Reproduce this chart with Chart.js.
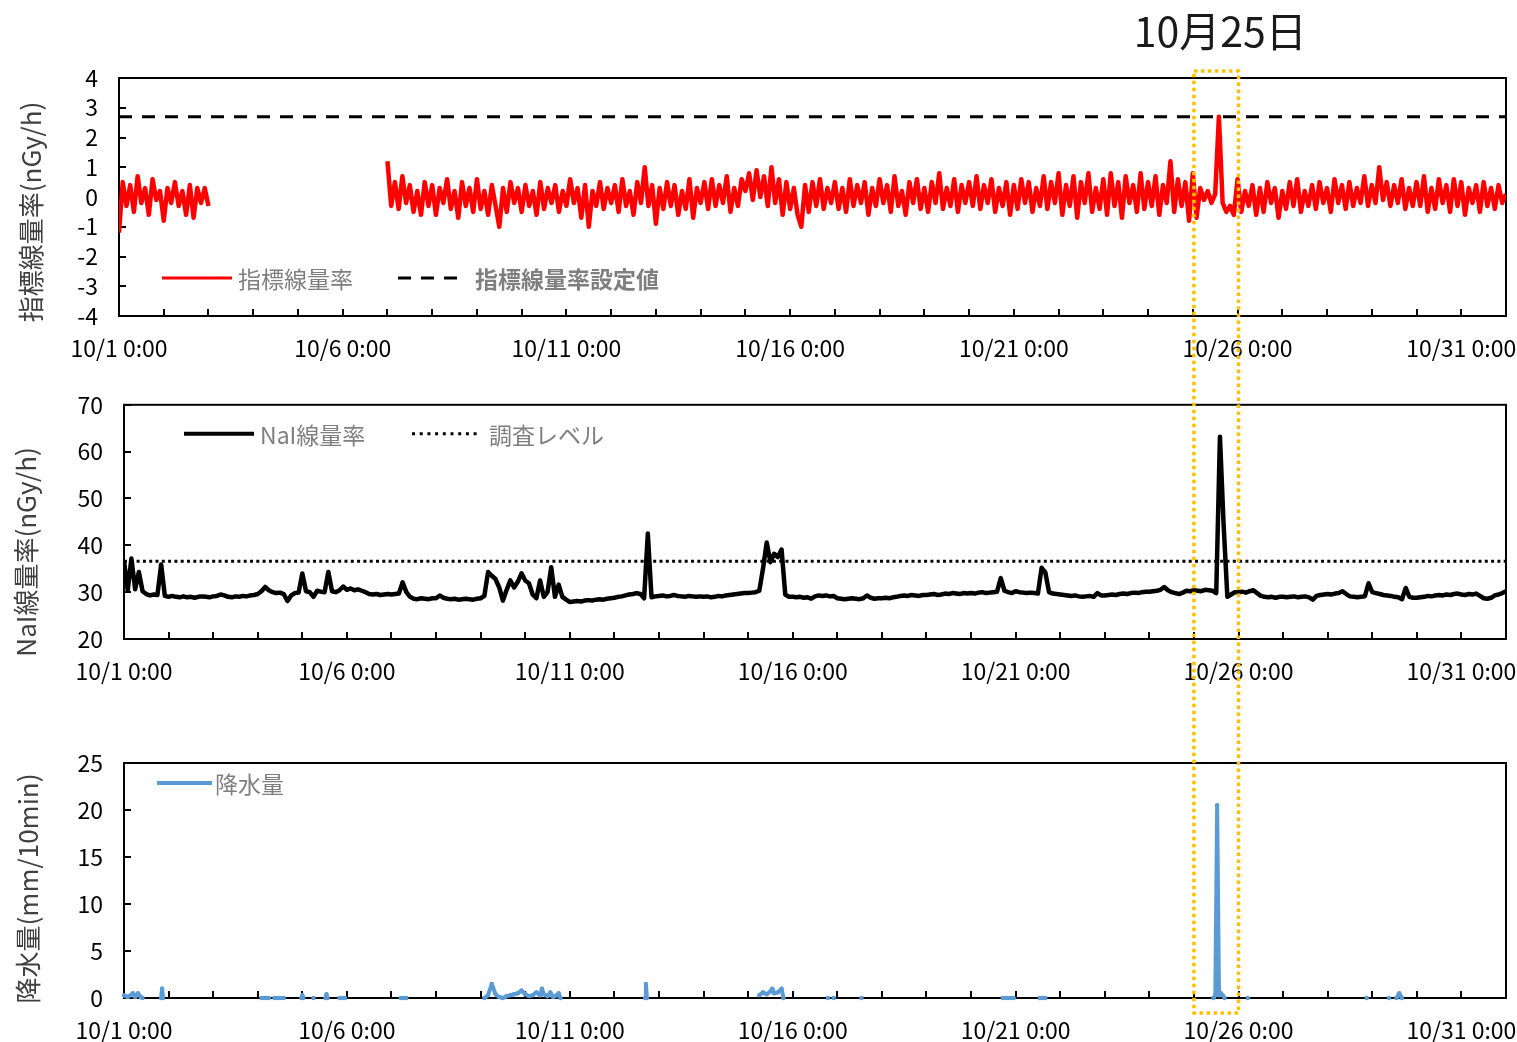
<!DOCTYPE html>
<html lang="ja">
<head>
<meta charset="utf-8">
<title>指標線量率・NaI線量率・降水量</title>
<script src="https://cdn.jsdelivr.net/npm/chart.js@4.4.1/dist/chart.umd.min.js"></script>
<style>
  html, body { margin: 0; padding: 0; background: #fff; }
  body { width: 1517px; height: 1042px; position: relative; overflow: hidden; }
  canvas { position: absolute; left: 0; }
  #overlay { top: 0; pointer-events: none; }
</style>
</head>
<body>
<canvas id="rateChart" width="1517" height="370" style="top:0"></canvas>
<canvas id="naiChart" width="1517" height="330" style="top:370px"></canvas>
<canvas id="rainChart" width="1517" height="342" style="top:700px"></canvas>
<canvas id="overlay" width="1517" height="1042"></canvas>
<script>
// readings every 2 hours starting 10/1 0:00, x axis is in days
const STEP = 2 / 24;
const dateLabels = ['10/1 0:00', '10/6 0:00', '10/11 0:00', '10/16 0:00', '10/21 0:00', '10/26 0:00', '10/31 0:00'];
const highlightDay = [24, 25];   // 10/25 0:00 - 10/26 0:00
const highlightText = '10月25日';

// 指標線量率 (nGy/h), one row per day
const rateValues = [
  -1.2, 0.5, -0.3, 0.4, -0.5, 0.7, -0.2, 0.3, -0.6, 0.6, -0.1, 0.2,
  -0.8, 0.3, -0.2, 0.5, -0.3, 0.2, -0.6, 0.4, -0.7, 0.3, -0.2, 0.3,
  -0.3, null, null, null, null, null, null, null, null, null, null, null,
  null, null, null, null, null, null, null, null, null, null, null, null,
  null, null, null, null, null, null, null, null, null, null, null, null,
  null, null, null, null, null, null, null, null, null, null, null, null,
  1.2, -0.3, 0.5, -0.4, 0.7, -0.2, 0.4, -0.5, 0.2, -0.6, 0.5, -0.3,
  0.4, -0.6, 0.3, -0.2, 0.6, -0.4, 0.2, -0.7, 0.5, -0.3, 0.3, -0.5,
  0.6, -0.4, 0.2, -0.6, 0.4, -0.3, -1.0, 0.3, -0.5, 0.5, -0.2, 0.3,
  -0.5, 0.4, -0.3, 0.2, -0.6, 0.5, -0.4, 0.3, -0.2, 0.4, -0.5, 0.2,
  -0.3, 0.6, -0.2, 0.3, -0.7, 0.4, -1.0, 0.2, -0.3, 0.5, -0.4, 0.3,
  -0.2, 0.4, -0.5, 0.6, -0.3, 0.2, -0.6, 0.5, -0.2, 1.0, -0.3, 0.4,
  -0.9, 0.3, -0.4, 0.5, -0.3, 0.4, -0.6, 0.2, -0.4, 0.6, -0.7, 0.3,
  -0.2, 0.5, -0.4, 0.6, -0.3, 0.4, -0.2, 0.7, -0.5, 0.3, -0.3, 0.6,
  0.2, 0.8, -0.1, 0.9, 0.0, 0.7, -0.3, 1.0, -0.2, 0.6, -0.6, 0.5,
  -0.4, 0.3, -0.6, -1.0, 0.4, -0.5, 0.5, -0.3, 0.6, -0.4, 0.3, -0.2,
  0.5, -0.4, 0.3, -0.5, 0.6, -0.3, 0.4, -0.2, 0.5, -0.6, 0.3, -0.3,
  0.6, -0.2, 0.4, -0.5, 0.7, -0.3, 0.2, -0.6, 0.5, -0.2, 0.6, -0.4,
  0.3, -0.5, 0.5, -0.2, 0.8, -0.4, 0.3, -0.3, 0.6, -0.5, 0.4, -0.2,
  0.5, -0.3, 0.7, -0.4, 0.4, -0.2, 0.6, -0.5, 0.3, -0.3, 0.5, -0.6,
  0.4, -0.4, 0.6, -0.2, 0.5, -0.5, 0.3, -0.3, 0.7, -0.4, 0.5, -0.2,
  0.8, -0.6, 0.4, -0.3, 0.7, -0.7, 0.5, -0.2, 0.8, -0.5, 0.3, -0.4,
  0.6, -0.6, 0.8, -0.3, 0.5, -0.7, 0.7, -0.2, 0.4, -0.5, 0.8, -0.4,
  0.5, -0.3, 0.7, -0.6, 0.4, -0.2, 1.2, -0.5, 0.6, -0.3, 0.5, -0.8,
  0.8, -0.7, 0.3, -0.1, 0.2, -0.2, 0.1, 2.7, -0.2, -0.5, -0.3, -0.6,
  0.6, -0.5, 0.2, -0.3, 0.4, -0.6, 0.3, -0.5, 0.5, -0.2, 0.3, -0.7,
  0.2, -0.4, 0.5, -0.3, 0.6, -0.5, 0.2, -0.3, 0.4, -0.4, 0.5, -0.2,
  0.3, -0.5, 0.6, -0.2, 0.4, -0.4, 0.5, -0.3, 0.3, -0.2, 0.7, -0.3,
  0.4, -0.2, 1.0, -0.1, 0.5, -0.3, 0.4, -0.2, 0.6, -0.4, 0.3, -0.3,
  0.5, -0.3, 0.7, -0.5, 0.3, -0.4, 0.6, -0.2, 0.4, -0.5, 0.6, -0.3,
  0.5, -0.6, 0.3, -0.2, 0.4, -0.5, 0.5, -0.3, 0.3, -0.4, 0.4, -0.2, 0.1
];
const rateThreshold = 2.7;   // 指標線量率設定値

// NaI線量率 (nGy/h), one row per day
const naiValues = [
  36.7, 30.4, 37.2, 30.6, 34.3, 30.2, 29.6, 29.3, 29.5, 29.4, 35.9, 29.2,
  29.0, 29.2, 29.0, 28.9, 29.1, 28.9, 29.0, 28.8, 29.0, 29.1, 29.0, 28.9,
  29.1, 29.2, 29.5, 29.3, 29.0, 28.9, 29.1, 29.0, 29.2, 29.1, 29.3, 29.4,
  29.6, 30.2, 31.1, 30.4, 30.0, 29.8, 29.9, 29.6, 28.1, 29.3, 29.8, 29.9,
  34.0, 30.2, 30.0, 29.0, 30.3, 30.1, 30.0, 34.3, 30.2, 30.0, 30.4, 31.2,
  30.5, 30.8, 30.4, 30.6, 30.3, 30.0, 29.6, 29.5, 29.6, 29.4, 29.5, 29.6,
  29.5, 29.6, 29.7, 32.1, 30.0, 29.0, 28.6, 28.5, 28.7, 28.6, 28.5, 28.7,
  28.7, 29.3, 28.8, 28.6, 28.5, 28.6, 28.4, 28.5, 28.6, 28.5, 28.4, 28.6,
  28.7, 29.2, 34.3, 33.5, 32.8, 31.0, 28.2, 30.5, 32.5, 31.0, 32.2, 34.0,
  32.5, 31.9, 29.5, 28.7, 32.5, 29.0, 30.0, 35.3, 29.0, 31.6, 29.0, 28.4,
  27.9, 28.0, 28.1, 28.0, 28.2, 28.3, 28.2, 28.4, 28.5, 28.4, 28.6, 28.7,
  28.8, 29.0, 29.1, 29.3, 29.5, 29.6, 29.8, 29.6, 28.7, 42.5, 28.9, 29.1,
  29.2, 29.3, 29.1, 29.2, 29.4, 29.2, 29.1, 29.0, 29.2, 29.1, 29.0, 29.1,
  29.0, 29.1, 28.9, 29.0, 29.2, 29.1, 29.3, 29.4, 29.5, 29.6, 29.7, 29.8,
  29.8, 29.9, 30.0, 30.3, 35.0, 40.6, 36.4, 38.2, 37.5, 39.1, 29.5, 29.0,
  29.0, 28.9, 29.0, 28.8, 28.9, 28.6, 29.1, 29.3, 29.2, 29.3, 29.1, 29.2,
  28.7, 28.6, 28.5, 28.6, 28.7, 28.6, 28.5, 28.7, 29.3, 28.8, 28.6, 28.7,
  28.7, 28.8, 28.7, 28.9, 29.0, 29.2, 29.3, 29.2, 29.4, 29.3, 29.2, 29.4,
  29.4, 29.5, 29.6, 29.4, 29.5, 29.7, 29.6, 29.8, 29.7, 29.6, 29.8, 29.7,
  29.8, 29.7, 29.9, 30.0, 29.8, 29.9, 30.0, 30.1, 33.0, 30.3, 30.0, 29.8,
  30.2, 30.0, 29.9, 29.8, 29.9, 29.8, 29.7, 35.2, 34.2, 30.0, 29.7, 29.6,
  29.5, 29.4, 29.3, 29.2, 29.3, 29.1, 29.0, 29.1, 29.2, 29.0, 29.8, 29.3,
  29.3, 29.4, 29.5, 29.4, 29.6, 29.7, 29.6, 29.8, 29.9, 29.8, 30.0, 30.1,
  30.1, 30.2, 30.3, 30.5, 31.1, 30.4, 30.0, 29.8, 29.6, 29.9, 30.3, 30.2,
  30.4, 30.3, 30.2, 30.5, 30.4, 30.3, 29.8, 63.2, 44.2, 29.0, 29.5, 30.0,
  30.0, 30.1, 29.9, 30.2, 30.4, 29.8, 29.2, 29.0, 28.9, 29.0, 28.8, 29.0,
  29.0, 28.9, 29.0, 29.1, 28.9, 29.0, 29.1, 28.9, 28.4, 29.2, 29.4, 29.5,
  29.6, 29.5, 29.7, 29.8, 30.2, 29.6, 29.1, 29.0, 28.9, 29.0, 29.1, 31.9,
  30.0, 29.8, 29.6, 29.4, 29.3, 29.2, 29.0, 28.9, 28.5, 30.9, 29.0, 28.8,
  28.8, 28.9, 29.0, 29.2, 29.1, 29.3, 29.4, 29.3, 29.5, 29.4, 29.6, 29.7,
  29.5, 29.4, 29.6, 29.5, 29.7, 29.2, 28.7, 28.6, 28.8, 29.3, 29.5, 29.8, 30.2
];
const surveyLevel = 36.6;   // 調査レベル

// 降水量 (mm/10min): hours from 10/1 0:00, null ends a rain spell
const rainHours = [
  0, 2, 4.8, 6, 7.5, 9, 10, 12,
  20, 20.5, 21, 30,
  74, 76, 78, 79,
  81, 83.5, 86, 90,
  95.5, 96, 96.5, 99,
  102, 104,
  108.5, 109, 109.5, 112,
  116, 117.5, 119, 130,
  149, 150.5, 152, 170,
  194, 196, 198, 200, 202, 204, 206, 208, 210, 212, 214, 216, 218, 220, 222, 224, 225, 226, 228, 229.5, 231, 233, 234, 235, 250,
  280.5, 281, 281.5, 300,
  342, 344, 346, 348, 349, 350, 352, 354, 355, 365,
  379, 380,
  382, 390,
  397, 420,
  473, 475, 477, 479, 485,
  493, 494.5, 496, 550,
  586.5, 587.5, 588.5, 589.5, 590.5, 591.5, 592.5, 598,
  605, 640,
  669, 675,
  681, 683,
  685, 686.5, 688, 700
];
const rainValues = [
  0.3, 0.1, 0.5, 0.1, 0.5, 0.1, 0, null,
  0, 1.0, 0, null,
  0, 0, 0, null,
  0, 0, 0, null,
  0, 0.3, 0, null,
  0, null,
  0, 0.4, 0, null,
  0, 0, 0, null,
  0, 0, 0, null,
  0, 0.3, 1.5, 0.4, 0.1, 0, 0.2, 0.3, 0.4, 0.5, 0.8, 0.4, 0.2, 0.3, 0.6, 0.3, 1.0, 0.4, 0.2, 0.6, 0.1, 0.3, 0.5, 0, null,
  0, 1.5, 0, null,
  0.3, 0.6, 0.4, 0.7, 1.0, 0.5, 0.6, 1.0, 0, null,
  0, null,
  0, null,
  0, null,
  0, 0, 0, 0, null,
  0, 0, 0, null,
  0, 0.3, 20.5, 0.3, 0.5, 0.3, 0, null,
  0, null,
  0, null,
  0, null,
  0, 0.5, 0, null
];

const FONT = "'Noto Sans CJK JP', 'Noto Sans', sans-serif";
Chart.defaults.font.family = FONT;
Chart.defaults.color = '#000';

const toSeries = vals => vals.map((v, i) => ({ x: i * STEP, y: v }));
const flatLine = v => [{ x: 0, y: v }, { x: 31, y: v }];

// box, inward tick marks, the y title and the legend inside the plot
const framePlugin = {
  id: 'frame',
  beforeDatasetsDraw(chart) {
    const { ctx, chartArea: a, scales } = chart;
    ctx.save();
    ctx.strokeStyle = '#000';
    ctx.lineWidth = 2;
    ctx.strokeRect(a.left, a.top, a.width, a.height);
    ctx.beginPath();
    scales.x.ticks.forEach(t => {
      const px = Math.round(scales.x.getPixelForValue(t.value));
      ctx.moveTo(px, a.bottom); ctx.lineTo(px, a.bottom - 7);
    });
    scales.y.ticks.forEach(t => {
      const py = Math.round(scales.y.getPixelForValue(t.value));
      ctx.moveTo(a.left, py); ctx.lineTo(a.left + 7, py);
    });
    ctx.stroke();
    ctx.restore();
  },
  afterDraw(chart, args, opts) {
    const { ctx, chartArea: a } = chart;
    ctx.save();
    // y axis title
    ctx.translate(opts.titleX, (a.top + a.bottom) / 2 + opts.titleDy);
    ctx.rotate(-Math.PI / 2);
    ctx.fillStyle = '#404040';
    ctx.font = '26px ' + FONT;
    ctx.textAlign = 'center';
    ctx.textBaseline = 'middle';
    ctx.fillText(opts.title, 0, 0);
    ctx.restore();

    const y = opts.fromBottom ? a.bottom - opts.offset : a.top + opts.offset;
    ctx.save();
    (opts.items || []).forEach(it => {
      ctx.beginPath();
      ctx.strokeStyle = it.color;
      ctx.lineWidth = it.width;
      ctx.setLineDash(it.dash || []);
      ctx.moveTo(a.left + it.x0, y);
      ctx.lineTo(a.left + it.x1, y);
      ctx.stroke();
      ctx.setLineDash([]);
      ctx.fillStyle = '#7f7f7f';
      ctx.font = (it.bold ? 'bold ' : '') + '23px ' + FONT;
      ctx.textBaseline = 'middle';
      ctx.fillText(it.label, a.left + it.tx, y + 1);
    });
    ctx.restore();
  }
};

function makeOptions(cfg) {
  return {
    responsive: false,
    animation: false,
    layout: { padding: { top: cfg.padTop, right: 11, left: 0, bottom: 0 } },
    plugins: {
      legend: { display: false },
      tooltip: { enabled: false },
      frame: cfg.legend
    },
    scales: {
      x: {
        type: 'linear', min: 0, max: 31,
        grid: { display: false, drawTicks: false },
        border: { display: false },
        ticks: {
          stepSize: 1, autoSkip: false, maxRotation: 0, padding: 18,
          font: { size: 23 },
          callback: v => (v % 5 === 0 ? dateLabels[v / 5] : '')
        },
        afterFit: s => { s.height = cfg.xHeight; s.paddingLeft = 0; s.paddingRight = 0; }
      },
      y: {
        min: cfg.yRange[0], max: cfg.yRange[1],
        grid: { display: false, drawTicks: false },
        border: { display: false },
        ticks: { stepSize: cfg.yRange[2], autoSkip: false, padding: 21, font: { size: 23 } },
        afterFit: s => { s.width = cfg.yWidth; }
      }
    }
  };
}

const rateChart = new Chart(document.getElementById('rateChart'), {
  type: 'line',
  data: {
    datasets: [
      { data: toSeries(rateValues), borderColor: '#ff0000', borderWidth: 4.5, pointRadius: 0,
        borderJoinStyle: 'round', spanGaps: false },
      { data: flatLine(rateThreshold), borderColor: '#000', borderWidth: 3, pointRadius: 0,
        borderDash: [13, 10] }
    ]
  },
  options: makeOptions({
    padTop: 78, xHeight: 54, yWidth: 119, yRange: [-4, 4, 1],
    legend: {
      title: '指標線量率(nGy/h)', titleX: 31, titleDy: 15,
      fromBottom: true, offset: 38, items: [
        { label: '指標線量率', color: '#ff0000', width: 3, x0: 43, x1: 113, tx: 119 },
        { label: '指標線量率設定値', color: '#000', width: 3, dash: [13, 10], x0: 279, x1: 339, tx: 356, bold: true }
      ] }
  }),
  plugins: [framePlugin]
});

const naiChart = new Chart(document.getElementById('naiChart'), {
  type: 'line',
  data: {
    datasets: [
      { data: toSeries(naiValues), borderColor: '#000', borderWidth: 4.5, pointRadius: 0,
        borderJoinStyle: 'round' },
      { data: flatLine(surveyLevel), borderColor: '#000', borderWidth: 3, pointRadius: 0,
        borderDash: [3, 3.3] }
    ]
  },
  options: makeOptions({
    padTop: 33, xHeight: 61, yWidth: 124, yRange: [20, 70, 10],
    legend: {
      title: 'NaI線量率(nGy/h)', titleX: 26, titleDy: 30,
      fromBottom: false, offset: 29, items: [
        { label: 'NaI線量率', color: '#000', width: 4, x0: 60, x1: 130, tx: 136 },
        { label: '調査レベル', color: '#000', width: 3, dash: [3, 4.7], x0: 288, x1: 357, tx: 365 }
      ] }
  }),
  plugins: [framePlugin]
});

const rainChart = new Chart(document.getElementById('rainChart'), {
  type: 'line',
  data: {
    datasets: [
      { data: rainHours.map((h, i) => ({ x: h / 24, y: rainValues[i] })),
        borderColor: '#5b9bd5', borderWidth: 4, pointRadius: 2.2, pointBorderWidth: 0,
        pointBackgroundColor: '#5b9bd5', borderJoinStyle: 'round', spanGaps: false, clip: false }
    ]
  },
  options: makeOptions({
    padTop: 63, xHeight: 44, yWidth: 124, yRange: [0, 25, 5],
    legend: {
      title: '降水量(mm/10min)', titleX: 28, titleDy: 8,
      fromBottom: false, offset: 20, items: [
        { label: '降水量', color: '#5b9bd5', width: 4, x0: 33, x1: 88, tx: 91 }
      ] }
  }),
  plugins: [framePlugin]
});

// dotted box marking 10/25 across the three charts, with its label
(function drawHighlight() {
  const ctx = document.getElementById('overlay').getContext('2d');
  const sx = naiChart.scales.x;
  const x1 = sx.getPixelForValue(highlightDay[0]);
  const x2 = sx.getPixelForValue(highlightDay[1]);
  const top = rateChart.chartArea.top - 7;
  const bottom = 700 + rainChart.chartArea.bottom + 15;
  ctx.save();
  ctx.strokeStyle = '#ffc000';
  ctx.lineWidth = 3.5;
  ctx.setLineDash([3.5, 3.5]);
  ctx.strokeRect(x1, top, x2 - x1, bottom - top);
  ctx.restore();
  ctx.fillStyle = '#1a1a1a';
  ctx.font = '41px ' + FONT;
  ctx.textAlign = 'center';
  ctx.textBaseline = 'alphabetic';
  ctx.fillText(highlightText, (x1 + x2) / 2 + 4, 47);
})();
</script>
</body>
</html>
